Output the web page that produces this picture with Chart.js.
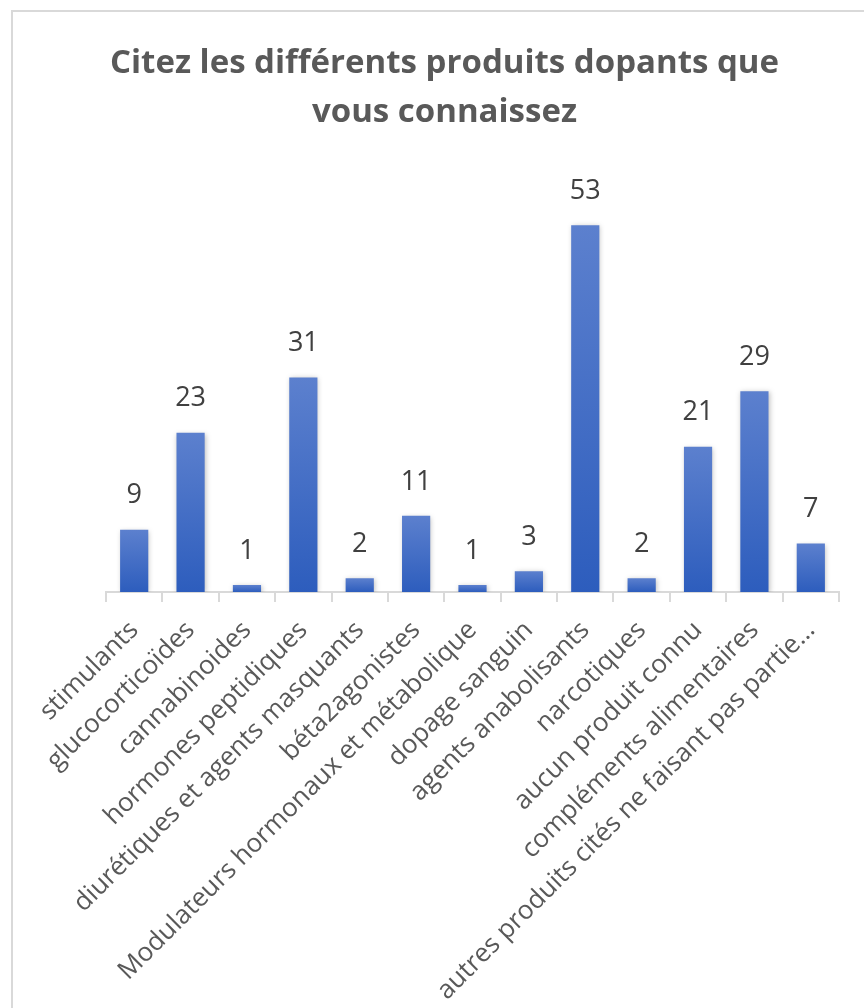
<!DOCTYPE html>
<html>
<head>
<meta charset="utf-8">
<script src="https://cdn.jsdelivr.net/npm/chart.js@4"></script>
<style>
body { margin: 0; background: #fff; }
#wrap { position: relative; width: 864px; height: 1008px; overflow: hidden; }
#frame { position: absolute; left: 11px; top: 10px; width: 900px; height: 1100px; border: 2px solid #d9d9d9; }
canvas { position: absolute; left: 0; top: 0; }
</style>
</head>
<body>
<div id="wrap">
  <div id="frame"></div>
  <canvas id="chart" width="864" height="1008"></canvas>
</div>
<script>
// chart data
const titleLines = ['Citez les différents produits dopants que', 'vous connaissez'];
const categories = [
    'stimulants',
    'glucocorticoïdes',
    'cannabinoides',
    'hormones peptidiques',
    'diurétiques et agents masquants',
    'béta2agonistes',
    'Modulateurs hormonaux et métabolique',
    'dopage sanguin',
    'agents anabolisants',
    'narcotiques',
    'aucun produit connu',
    'compléments alimentaires',
    'autres produits cités ne faisant pas partie…'
];
const counts = [9, 23, 1, 31, 2, 11, 1, 3, 53, 2, 21, 29, 7];

// shadow under the bars + value labels on top
const barDecor = {
    id: 'barDecor',
    beforeDatasetsDraw(chart) {
        const c = chart.ctx;
        c.save();
        c.shadowColor = 'rgba(0, 0, 0, 0.25)';
        c.shadowBlur = 5;
        c.shadowOffsetX = 1;
        c.shadowOffsetY = 1;
    },
    afterDatasetsDraw(chart) {
        const c = chart.ctx;
        c.restore();
        c.save();
        c.fillStyle = '#404040';
        c.font = '27px "Open Sans"';
        c.textAlign = 'center';
        c.textBaseline = 'middle';
        chart.getDatasetMeta(0).data.forEach((bar, i) => {
            c.fillText(String(counts[i]), bar.x, bar.y - 34);
        });
        c.restore();
    }
};

const ctx = document.getElementById('chart').getContext('2d');

new Chart(ctx, {
    type: 'bar',
    data: {
        labels: categories,
        datasets: [{
            data: counts,
            backgroundColor: function(context) {
                const chart = context.chart;
                if (!chart.chartArea || context.raw === undefined) return '#4472c4';
                const yScale = chart.scales.y;
                const top = yScale.getPixelForValue(context.raw);
                const bottom = yScale.getPixelForValue(0);
                const g = chart.ctx.createLinearGradient(0, top, 0, bottom);
                g.addColorStop(0, 'rgb(92, 128, 206)');
                g.addColorStop(1, 'rgb(45, 93, 189)');
                return g;
            },
            borderWidth: 0,
            categoryPercentage: 1,
            barPercentage: 0.5
        }]
    },
    options: {
        responsive: false,
        animation: false,
        layout: {
            padding: { left: 50, right: 25, top: 0, bottom: 0 }
        },
        plugins: {
            legend: { display: false },
            tooltip: { enabled: false },
            title: {
                display: true,
                text: titleLines,
                color: '#595959',
                font: { family: 'Open Sans', size: 33, weight: 'bold', lineHeight: 1.48 },
                padding: { top: 39, bottom: 40 }
            }
        },
        scales: {
            x: {
                grid: {
                    display: true,
                    drawOnChartArea: false,
                    offset: true,
                    color: '#d9d9d9',
                    lineWidth: 2,
                    tickLength: 10
                },
                border: { display: true, color: '#d9d9d9', width: 2 },
                ticks: {
                    color: '#595959',
                    font: { family: 'Open Sans', size: 26 },
                    minRotation: 45,
                    maxRotation: 45,
                    autoSkip: false,
                    padding: 13
                },
                afterFit: function(scale) {
                    scale.height = 416;
                    scale.paddingLeft = 106;
                    scale.paddingRight = 0;
                }
            },
            y: {
                display: false,
                min: 0,
                max: 60
            }
        }
    },
    plugins: [barDecor]
});
</script>
</body>
</html>
